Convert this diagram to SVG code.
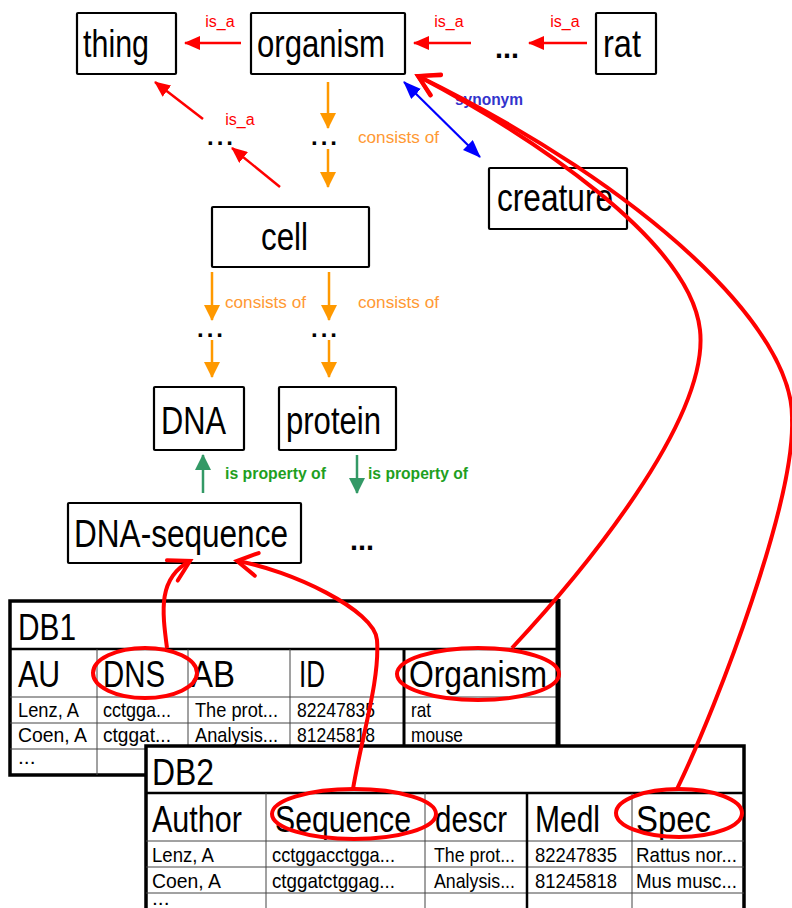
<svg xmlns="http://www.w3.org/2000/svg" width="792" height="908" viewBox="0 0 792 908">
<style>
.box{fill:#fff;stroke:#000;stroke-width:2.2}
.nt{font-family:"Liberation Sans Narrow","Arial Narrow","Liberation Sans",Arial,sans-serif;font-size:38px;fill:#000}
.lbl{font-family:"Liberation Sans Narrow","Arial Narrow","Liberation Sans",Arial,sans-serif;font-size:16px}
.isa{fill:#ff0000}
.cons{fill:#ff9933}
.syn{fill:#3333cc;font-weight:bold}
.prop{fill:#1f9f1f;font-weight:bold}
.dots{font-family:"Liberation Sans",Arial,sans-serif;font-weight:bold;fill:#000}
.red{stroke:#ff0000;stroke-width:2.5;fill:none}
.org{stroke:#ff9900;stroke-width:2.5;fill:none}
.blu{stroke:#0000ff;stroke-width:2.2;fill:none}
.grn{stroke:#339966;stroke-width:2.5;fill:none}
.hl{stroke:#ff0000;stroke-width:4;fill:none}
.th{font-family:"Liberation Sans Narrow","Arial Narrow","Liberation Sans",Arial,sans-serif;font-size:36px;fill:#000}
.td{font-family:"Liberation Sans Narrow","Arial Narrow","Liberation Sans",Arial,sans-serif;font-size:21px;fill:#000}
.tb{fill:#fff;stroke:#000;stroke-width:3.5}
.thick{stroke:#000;stroke-width:2.5}
.thin{stroke:#444;stroke-width:1}
</style>
<defs>
<marker id="hRed" markerUnits="userSpaceOnUse" viewBox="0 0 16 14" markerWidth="16" markerHeight="14" refX="15" refY="7" orient="auto"><path d="M0,0 L16,7 L0,14 z" fill="#ff0000"/></marker>
<marker id="hOrg" markerUnits="userSpaceOnUse" viewBox="0 0 16 16" markerWidth="16" markerHeight="16" refX="15" refY="8" orient="auto"><path d="M0,0 L16,8 L0,16 z" fill="#ff9900"/></marker>
<marker id="hBlu" markerUnits="userSpaceOnUse" viewBox="0 0 18 14" markerWidth="18" markerHeight="14" refX="17" refY="7" orient="auto-start-reverse"><path d="M0,0 L18,7 L0,14 z" fill="#0000ff"/></marker>
<marker id="hGrn" markerUnits="userSpaceOnUse" viewBox="0 0 16 16" markerWidth="16" markerHeight="16" refX="15" refY="8" orient="auto"><path d="M0,0 L16,8 L0,16 z" fill="#339966"/></marker>
<marker id="hOpen" markerUnits="userSpaceOnUse" viewBox="-26 -15 30 30" markerWidth="30" markerHeight="30" refX="0" refY="0" orient="auto"><path d="M-20,-11.5 L0,0 L-20,11.5" fill="none" stroke="#ff0000" stroke-width="4" stroke-linecap="round"/></marker>
</defs>
<rect width="792" height="908" fill="#fff"/>

<g id="thing"><rect class="box" x="77" y="13" width="99" height="61" rx="1"/><text class="nt" x="83" y="57" textLength="66" lengthAdjust="spacingAndGlyphs">thing</text></g>
<g id="organism"><rect class="box" x="251" y="13" width="154" height="61" rx="1"/><text class="nt" x="257" y="57" textLength="128" lengthAdjust="spacingAndGlyphs">organism</text></g>
<g id="rat"><rect class="box" x="596" y="13" width="60" height="61" rx="1"/><text class="nt" x="603" y="57" textLength="38" lengthAdjust="spacingAndGlyphs">rat</text></g>
<g id="creature"><rect class="box" x="489" y="168" width="138" height="61" rx="1"/><text class="nt" x="497" y="211" textLength="116" lengthAdjust="spacingAndGlyphs">creature</text></g>
<g id="cell"><rect class="box" x="212" y="207" width="157" height="60" rx="1"/><text class="nt" x="261" y="250" textLength="47" lengthAdjust="spacingAndGlyphs">cell</text></g>
<g id="DNA"><rect class="box" x="154" y="387" width="90" height="63" rx="1"/><text class="nt" x="161" y="434" textLength="65" lengthAdjust="spacingAndGlyphs">DNA</text></g>
<g id="protein"><rect class="box" x="279" y="387" width="117" height="63" rx="1"/><text class="nt" x="286" y="434" textLength="95" lengthAdjust="spacingAndGlyphs">protein</text></g>
<g id="DNA-sequence"><rect class="box" x="68" y="503" width="233" height="60" rx="1"/><text class="nt" x="74" y="547" textLength="214" lengthAdjust="spacingAndGlyphs">DNA-sequence</text></g>

<g id="ellipses">
<text class="dots" x="495" y="58" font-size="30" textLength="24" lengthAdjust="spacingAndGlyphs">...</text>
<text class="dots" x="350" y="550" font-size="30" textLength="24" lengthAdjust="spacingAndGlyphs">...</text>
<text class="dots" x="207" y="145" font-size="24" textLength="26" lengthAdjust="spacing">...</text>
<text class="dots" x="311" y="145" font-size="24" textLength="26" lengthAdjust="spacing">...</text>
<text class="dots" x="197" y="337" font-size="24" textLength="26" lengthAdjust="spacing">...</text>
<text class="dots" x="311" y="337" font-size="24" textLength="26" lengthAdjust="spacing">...</text>
</g>

<g id="connectors">
<line class="red" x1="241" y1="43" x2="185" y2="43" marker-end="url(#hRed)"/>
<line class="red" x1="471" y1="43" x2="414" y2="43" marker-end="url(#hRed)"/>
<line class="red" x1="587" y1="43" x2="529" y2="43" marker-end="url(#hRed)"/>
<line class="red" x1="203" y1="119" x2="155" y2="82" marker-end="url(#hRed)"/>
<line class="red" x1="280" y1="187" x2="232" y2="148" marker-end="url(#hRed)"/>
<line class="org" x1="328" y1="82" x2="328" y2="128" marker-end="url(#hOrg)"/>
<line class="org" x1="328" y1="149" x2="328" y2="187" marker-end="url(#hOrg)"/>
<line class="org" x1="212" y1="272" x2="212" y2="320" marker-end="url(#hOrg)"/>
<line class="org" x1="212" y1="340" x2="212" y2="377" marker-end="url(#hOrg)"/>
<line class="org" x1="329" y1="272" x2="329" y2="320" marker-end="url(#hOrg)"/>
<line class="org" x1="329" y1="340" x2="329" y2="377" marker-end="url(#hOrg)"/>
<line class="blu" x1="404" y1="82" x2="480" y2="157" marker-start="url(#hBlu)" marker-end="url(#hBlu)"/>
<line class="grn" x1="203" y1="493" x2="203" y2="455" marker-end="url(#hGrn)"/>
<line class="grn" x1="357" y1="455" x2="357" y2="493" marker-end="url(#hGrn)"/>
<text class="lbl isa" x="220" y="27" text-anchor="middle">is_a</text>
<text class="lbl isa" x="449" y="27" text-anchor="middle">is_a</text>
<text class="lbl isa" x="565" y="27" text-anchor="middle">is_a</text>
<text class="lbl isa" x="240" y="125" text-anchor="middle">is_a</text>
<text class="lbl cons" x="358" y="143" textLength="81" lengthAdjust="spacingAndGlyphs">consists of</text>
<text class="lbl cons" x="225" y="308" textLength="81" lengthAdjust="spacingAndGlyphs">consists of</text>
<text class="lbl cons" x="358" y="308" textLength="81" lengthAdjust="spacingAndGlyphs">consists of</text>
<text class="lbl syn" x="455" y="105" textLength="68" lengthAdjust="spacingAndGlyphs">synonym</text>
<text class="lbl prop" x="225" y="479" textLength="101" lengthAdjust="spacingAndGlyphs">is property of</text>
<text class="lbl prop" x="368" y="479" textLength="100" lengthAdjust="spacingAndGlyphs">is property of</text>
</g>

<g id="DB1">
<rect class="tb" x="10" y="601" width="548" height="174"/>
<line class="thick" x1="10" y1="649" x2="558" y2="649"/>
<line class="thin" x1="10" y1="697" x2="558" y2="697"/>
<line class="thin" x1="10" y1="723" x2="558" y2="723"/>
<line class="thin" x1="10" y1="749" x2="558" y2="749"/>
<line class="thin" x1="97" y1="649" x2="97" y2="775"/>
<line class="thin" x1="188" y1="649" x2="188" y2="775"/>
<line class="thin" x1="290" y1="649" x2="290" y2="775"/>
<line stroke="#000" stroke-width="3" x1="404" y1="649" x2="404" y2="775"/>
<line stroke="#000" stroke-width="5" x1="558" y1="599" x2="558" y2="777"/>
<text class="th" x="18" y="640" textLength="58" lengthAdjust="spacingAndGlyphs">DB1</text>
<text class="th" x="18" y="687" textLength="42" lengthAdjust="spacingAndGlyphs">AU</text>
<text class="th" x="103" y="687" textLength="62" lengthAdjust="spacingAndGlyphs">DNS</text>
<text class="th" x="191" y="687" textLength="44" lengthAdjust="spacingAndGlyphs">AB</text>
<text class="th" x="299" y="687" textLength="26" lengthAdjust="spacingAndGlyphs">ID</text>
<text class="th" x="409" y="687" textLength="138" lengthAdjust="spacingAndGlyphs">Organism</text>
<text class="td" x="18" y="717" textLength="61" lengthAdjust="spacingAndGlyphs">Lenz, A</text>
<text class="td" x="103" y="717" textLength="68" lengthAdjust="spacingAndGlyphs">cctgga...</text>
<text class="td" x="195" y="717" textLength="83" lengthAdjust="spacingAndGlyphs">The prot...</text>
<text class="td" x="297" y="717" textLength="78" lengthAdjust="spacingAndGlyphs">82247835</text>
<text class="td" x="411" y="717" textLength="20" lengthAdjust="spacingAndGlyphs">rat</text>
<text class="td" x="18" y="742" textLength="69" lengthAdjust="spacingAndGlyphs">Coen, A</text>
<text class="td" x="103" y="742" textLength="68" lengthAdjust="spacingAndGlyphs">ctggat...</text>
<text class="td" x="195" y="742" textLength="83" lengthAdjust="spacingAndGlyphs">Analysis...</text>
<text class="td" x="297" y="742" textLength="78" lengthAdjust="spacingAndGlyphs">81245818</text>
<text class="td" x="411" y="742" textLength="52" lengthAdjust="spacingAndGlyphs">mouse</text>
<text class="td" x="18" y="764" font-size="12">...</text>
</g>

<g id="DB2">
<rect class="tb" x="146" y="746" width="598" height="180"/>
<line class="thick" x1="146" y1="793" x2="744" y2="793"/>
<line class="thin" x1="146" y1="841" x2="744" y2="841"/>
<line class="thin" x1="146" y1="867" x2="744" y2="867"/>
<line class="thin" x1="146" y1="893" x2="744" y2="893"/>
<line class="thin" x1="266" y1="793" x2="266" y2="908"/>
<line class="thin" x1="425" y1="793" x2="425" y2="908"/>
<line stroke="#000" stroke-width="2.5" x1="527" y1="793" x2="527" y2="908"/>
<line class="thin" x1="632" y1="793" x2="632" y2="908"/>
<text class="th" x="152" y="785" textLength="62" lengthAdjust="spacingAndGlyphs">DB2</text>
<text class="th" x="152" y="832" textLength="90" lengthAdjust="spacingAndGlyphs">Author</text>
<text class="th" x="275" y="832" textLength="136" lengthAdjust="spacingAndGlyphs">Sequence</text>
<text class="th" x="435" y="832" textLength="72" lengthAdjust="spacingAndGlyphs">descr</text>
<text class="th" x="535" y="832" textLength="65" lengthAdjust="spacingAndGlyphs">Medl</text>
<text class="th" x="636" y="832" textLength="75" lengthAdjust="spacingAndGlyphs">Spec</text>
<text class="td" x="152" y="862" textLength="62" lengthAdjust="spacingAndGlyphs">Lenz, A</text>
<text class="td" x="272" y="862" textLength="123" lengthAdjust="spacingAndGlyphs">cctggacctgga...</text>
<text class="td" x="434" y="862" textLength="81" lengthAdjust="spacingAndGlyphs">The prot...</text>
<text class="td" x="535" y="862" textLength="82" lengthAdjust="spacingAndGlyphs">82247835</text>
<text class="td" x="636" y="862" textLength="101" lengthAdjust="spacingAndGlyphs">Rattus nor...</text>
<text class="td" x="152" y="888" textLength="69" lengthAdjust="spacingAndGlyphs">Coen, A</text>
<text class="td" x="272" y="888" textLength="123" lengthAdjust="spacingAndGlyphs">ctggatctggag...</text>
<text class="td" x="434" y="888" textLength="81" lengthAdjust="spacingAndGlyphs">Analysis...</text>
<text class="td" x="535" y="888" textLength="82" lengthAdjust="spacingAndGlyphs">81245818</text>
<text class="td" x="636" y="888" textLength="101" lengthAdjust="spacingAndGlyphs">Mus musc...</text>
<text class="td" x="152" y="905" font-size="10">...</text>
</g>

<g id="mappings">
<ellipse class="hl" cx="145" cy="673" rx="52" ry="25"/>
<ellipse class="hl" cx="478" cy="674" rx="81" ry="26"/>
<ellipse class="hl" cx="354" cy="814" rx="82" ry="25"/>
<ellipse class="hl" cx="679" cy="813" rx="63" ry="24"/>
<path class="hl" d="M167,648 C162,610 158,578 190,561" marker-end="url(#hOpen)"/>
<path class="hl" d="M353,789 C362,735 380,680 377,640 C375,610 290,570 237,561" marker-end="url(#hOpen)"/>
<path class="hl" d="M512,648 C580,575 710,420 700,330 C690,240 530,135 418,76" marker-end="url(#hOpen)"/>
<path class="hl" d="M677,789 C720,700 795,500 792,420 C795,330 650,190 418,76" marker-end="url(#hOpen)"/>
</g>
</svg>
